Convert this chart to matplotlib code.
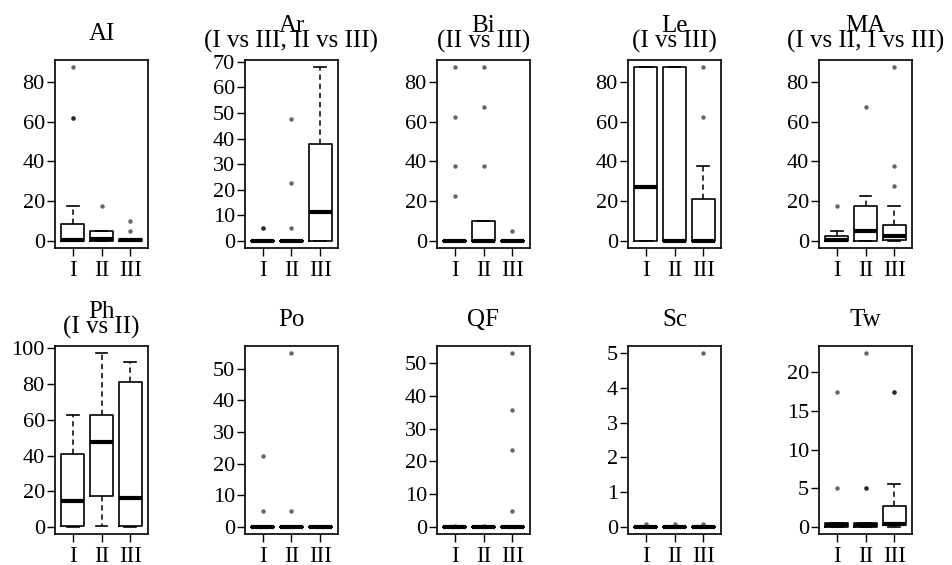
import matplotlib
matplotlib.use('Agg')
import matplotlib.pyplot as plt

plt.rcParams['font.family'] = ['Liberation Serif', 'DejaVu Serif']

groups = ['I', 'II', 'III']
panel_names = ['AI', 'Ar', 'Bi', 'Le', 'MA', 'Ph', 'Po', 'QF', 'Sc', 'Tw']
subtitles = {'Ar': '(I vs III, II vs III)', 'Bi': '(II vs III)', 'Le': '(I vs III)',
             'MA': '(I vs II, I vs III)', 'Ph': '(I vs II)'}

# five-number summaries per group: (whisker low, q1, median, q3, whisker high)
AI_stats = [(0, 0, 0.5, 8.7, 17.5), (0, 0, 0.8, 4.8, 4.8), (0, 0, 0.4, 1.2, 1.2)]
AI_fliers = [[62, 62, 87.5], [17.5], [5, 10]]
Ar_stats = [(0, 0, 0, 0, 0), (0, 0, 0, 0, 0), (0, 0, 11.5, 38, 68)]
Ar_fliers = [[5, 5], [5, 22.5, 47.5], []]
Bi_stats = [(0, 0, 0, 0, 0), (0, 0, 0, 10, 10), (0, 0, 0, 0, 0)]
Bi_fliers = [[22.5, 37.5, 62.5, 87.5], [37.5, 67.5, 87.5], [5]]
Le_stats = [(0, 0, 27, 87.5, 87.5), (0, 0, 0, 87.5, 87.5), (0, 0, 0, 21, 37.5)]
Le_fliers = [[], [], [62.5, 87.5]]
MA_stats = [(0, 0, 0.3, 2.7, 5), (0, 0, 5, 17.5, 22.5), (0, 0.5, 2.5, 8, 17.5)]
MA_fliers = [[17.5], [67.5], [27.5, 37.5, 87.5]]
Ph_stats = [(0, 0.5, 14.5, 41, 62.5), (0.5, 17.5, 47.5, 63, 97.5), (0, 0.5, 16.5, 81.5, 92.5)]
Ph_fliers = [[], [], []]
Po_stats = [(0, 0, 0, 0, 0), (0, 0, 0, 0, 0), (0, 0, 0, 0, 0)]
Po_fliers = [[5, 22.5], [5, 55], []]
QF_stats = [(0, 0, 0, 0, 0), (0, 0, 0, 0, 0), (0, 0, 0, 0, 0)]
QF_fliers = [[0.3], [0.3], [5, 23.5, 35.5, 53]]
Sc_stats = [(0, 0, 0, 0, 0), (0, 0, 0, 0, 0), (0, 0, 0, 0, 0)]
Sc_fliers = [[0.1], [0.1], [0.1, 5]]
Tw_stats = [(0, 0, 0.25, 0.55, 0.55), (0, 0, 0.25, 0.55, 0.55), (0, 0.2, 0.4, 2.7, 5.5)]
Tw_fliers = [[5, 17.5], [5, 5, 22.5], [17.5, 17.5]]

AI_ticks = [0, 20, 40, 60, 80]
Ar_ticks = [0, 10, 20, 30, 40, 50, 60, 70]
Bi_ticks = [0, 20, 40, 60, 80]
Le_ticks = [0, 20, 40, 60, 80]
MA_ticks = [0, 20, 40, 60, 80]
Ph_ticks = [0, 20, 40, 60, 80, 100]
Po_ticks = [0, 10, 20, 30, 40, 50]
QF_ticks = [0, 10, 20, 30, 40, 50]
Sc_ticks = [0, 1, 2, 3, 4, 5]
Tw_ticks = [0, 5, 10, 15, 20]

panels = {
    'AI': (AI_stats, AI_fliers, AI_ticks), 'Ar': (Ar_stats, Ar_fliers, Ar_ticks),
    'Bi': (Bi_stats, Bi_fliers, Bi_ticks), 'Le': (Le_stats, Le_fliers, Le_ticks),
    'MA': (MA_stats, MA_fliers, MA_ticks), 'Ph': (Ph_stats, Ph_fliers, Ph_ticks),
    'Po': (Po_stats, Po_fliers, Po_ticks), 'QF': (QF_stats, QF_fliers, QF_ticks),
    'Sc': (Sc_stats, Sc_fliers, Sc_ticks), 'Tw': (Tw_stats, Tw_fliers, Tw_ticks),
}

W, H = 952, 565
fig = plt.figure(figsize=(W / 100, H / 100), dpi=100)

lefts = [55, 245, 437, 628, 819]
tops = [60, 346]
aw, ah = 93, 188

for idx, name in enumerate(panel_names):
    r, c = divmod(idx, 5)
    stats, fliers, ticks = panels[name]
    x0, y0 = lefts[c], tops[r]
    ax = fig.add_axes([x0 / W, (H - y0 - ah) / H, aw / W, ah / H])
    bxp_stats = []
    for g, (wl, q1, med, q3, wh), fl in zip(groups, stats, fliers):
        bxp_stats.append(dict(whislo=wl, q1=q1, med=med, q3=q3, whishi=wh,
                              fliers=fl, label=g))
    ax.bxp(bxp_stats, positions=[1, 2, 3], widths=0.8, capwidths=0.4,
           boxprops=dict(color='black', linewidth=1.2),
           medianprops=dict(color='black', linewidth=3, solid_capstyle='butt'),
           whiskerprops=dict(color='black', linewidth=1.1, linestyle=(0, (3.5, 2.5))),
           capprops=dict(color='black', linewidth=1.2),
           flierprops=dict(marker='o', markersize=3.2, markerfacecolor='black',
                           markeredgecolor='none', alpha=0.6, linestyle='none'))
    vals = [v for s in stats for v in s] + [v for f in fliers for v in f]
    lo, hi = min(vals), max(vals)
    ext = (hi - lo) * 0.04
    ax.set_ylim(lo - ext, hi + ext)
    ax.set_xlim(0.38, 3.62)
    ax.set_yticks(ticks)
    ax.set_yticklabels([str(t) for t in ticks])
    ax.set_xticks([1, 2, 3])
    ax.set_xticklabels(groups)
    ax.tick_params(axis='y', length=5.8, width=1, pad=1.5, labelsize=16)
    ax.tick_params(axis='x', length=5.8, width=1, pad=2.5, labelsize=16.5)
    for sp in ax.spines.values():
        sp.set_linewidth(1.2)
    cx = (x0 + aw / 2) / W
    if name in subtitles:
        fig.text(cx, (H - (y0 - 12)) / H, name + '\n' + subtitles[name],
                 ha='center', va='baseline', fontsize=18, linespacing=0.6,
                 multialignment='center')
    else:
        fig.text(cx, (H - (y0 - 20)) / H, name, ha='center', va='baseline', fontsize=18)

fig.savefig('out.png', dpi=100, facecolor='white')
